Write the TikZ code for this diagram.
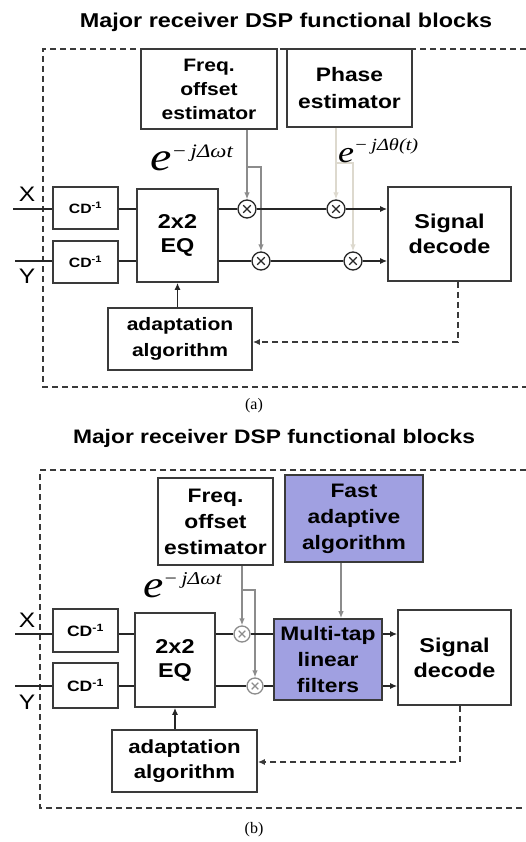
\documentclass[tikz,border=0pt]{standalone}
\usepackage{fontspec}
\setmainfont{Liberation Serif}
\setsansfont{Liberation Sans}
\usetikzlibrary{arrows.meta,calc}
\definecolor{boxc}{HTML}{3A3A3A}
\definecolor{gline}{HTML}{8C8C8C}
\definecolor{pline}{HTML}{DDD9CE}
\definecolor{purp}{HTML}{A0A0E1}
\newcommand\sx[1]{\scalebox{1.17}[1]{#1}}
\newcommand\elab[4]{\scalebox{1.2}[1]{\fontsize{#1}{#1}\selectfont\itshape e\raisebox{#3}{\fontsize{#2}{#2}\selectfont #4}}}
\newcommand\fs[2]{\fontsize{#1}{#2}\selectfont}
\tikzset{
  box/.style={draw=boxc, line width=1.6pt, fill=white, inner sep=0pt, font=\sffamily\bfseries, align=center},
  conn/.style={line width=1.5pt, draw=black!85},
  arr/.style={conn, -{Latex[length=7pt,width=6pt]}},
  garr/.style={line width=1.3pt, draw=#1, -{Latex[length=7pt,width=5.5pt]}},
  garr/.default=gline,
  frame/.style={draw=boxc, line width=1.3pt, dash pattern=on 6pt off 4pt},
  fback/.style={draw=boxc, line width=1.5pt, dash pattern=on 6pt off 4pt, -{Latex[length=7pt,width=6pt]}},
  mul/.style={circle, draw=#1, line width=1.3pt, fill=white, minimum size=18pt, inner sep=0pt,
    path picture={\draw[line width=1.1pt, draw=#1]
      ($(path picture bounding box.center)!0.42!(path picture bounding box.north east)$) --
      ($(path picture bounding box.center)!0.42!(path picture bounding box.south west)$)
      ($(path picture bounding box.center)!0.42!(path picture bounding box.north west)$) --
      ($(path picture bounding box.center)!0.42!(path picture bounding box.south east)$);}},
  mul/.default=black!85,
  ttl/.style={font=\sffamily\bfseries, inner sep=0pt},
  io/.style={font=\sffamily\fs{21}{21}, inner sep=0pt},
  captxt/.style={font=\fs{16}{16}, inner sep=0pt},
}
\begin{document}
\begin{tikzpicture}[x=1pt,y=-1pt]
\useasboundingbox[fill=white] (0,0) rectangle (526,842);

% ================= Panel (a) =================
\node[ttl] (ta) at (286,22) {\fs{20}{20}\sx{Major receiver DSP functional blocks}};
\draw[frame] (526,49) -- (43,49) -- (43,387) -- (526,387);

\node[box, minimum width=136pt, minimum height=80pt, font=\sffamily\bfseries\fs{18}{24}] (fo) at (209,89) {\sx{Freq.}\\\sx{offset}\\\sx{estimator}};
\node[box, minimum width=125pt, minimum height=78pt, font=\sffamily\bfseries\fs{19.5}{27}] (ph) at (349.5,88) {\sx{Phase}\\\sx{estimator}};

\node[box, minimum width=65pt, minimum height=42pt, font=\sffamily\bfseries\fs{13.5}{14}] (cdx) at (85.5,208) {\sx{CD\textsuperscript{-1}}};
\node[box, minimum width=65pt, minimum height=42pt, font=\sffamily\bfseries\fs{13.5}{14}] (cdy) at (85.5,262) {\sx{CD\textsuperscript{-1}}};
\node[box, minimum width=81pt, minimum height=93pt, font=\sffamily\bfseries\fs{20}{24}] (eq) at (177.5,235.5) {\sx{2x2}\\\sx{EQ}};
\node[box, minimum width=123pt, minimum height=94pt, font=\sffamily\bfseries\fs{20}{25}] (sd) at (449.5,234) {\sx{Signal}\\\sx{decode}};
\node[box, minimum width=144pt, minimum height=62pt, font=\sffamily\bfseries\fs{18}{26}] (ad) at (180,339) {\sx{adaptation}\\\sx{algorithm}};

\node[io] (xa) at (27,194) {\sx{X}};
\node[io] (ya) at (27,276) {\sx{Y}};
\coordinate (xin) at (13,209);
\coordinate (yin) at (15,261);

% frequency / phase lines
\coordinate (fa1) at (247,167);
\coordinate (fa2) at (261,167);
\coordinate (pa1) at (336,163);
\coordinate (pa2) at (353,163);
\node[mul] (m1) at (247,209) {};
\node[mul] (m2) at (261,261) {};
\node[mul] (m3) at (336,209) {};
\node[mul] (m4) at (353,261) {};
\draw[garr] (fo.south -| m1) -- (m1.north);
\draw[garr] (fa1) -- (fa2) -- (m2.north);
\draw[garr=pline] (ph.south -| m3) -- (m3.north);
\draw[garr=pline] (pa1) -- (pa2) -- (m4.north);

\node[anchor=base west, inner sep=0pt] (lfa) at (150,171) {\elab{40}{19}{13pt}{−\,jΔωt}};
\node[anchor=base west, inner sep=0pt] (lpa) at (338,163) {\elab{30}{17}{12pt}{−\,jΔθ(t)}};

\draw[conn] (xin) -- (cdx.west |- xin);
\draw[conn] (yin) -- (cdy.west |- yin);
\draw[conn] (cdx.east |- m1) -- (eq.west |- m1);
\draw[conn] (cdy.east |- m2) -- (eq.west |- m2);
\draw[conn] (eq.east |- m1) -- (m1.west);
\draw[conn] (eq.east |- m2) -- (m2.west);
\draw[conn] (m1.east) -- (m3.west);
\draw[conn] (m2.east) -- (m4.west);
\draw[arr] (m3.east) -- (sd.west |- m3);
\draw[arr] (m4.east) -- (sd.west |- m4);
\draw[arr] (eq.south |- ad.north) -- (eq.south);
\coordinate (fbka) at (458,342);
\draw[fback] (sd.south -| fbka) -- (fbka) -- (ad.east |- fbka);

\node[captxt] (capa) at (254,406) {(a)};

% ================= Panel (b) =================
\node[ttl] (tb) at (274,438) {\fs{19.5}{20}\sx{Major receiver DSP functional blocks}};
\draw[frame] (526,470) -- (40,470) -- (40,808) -- (526,808);

\node[box, minimum width=115pt, minimum height=87pt, font=\sffamily\bfseries\fs{19.5}{26}] (fo2) at (215.5,521.5) {\sx{Freq.}\\\sx{offset}\\\sx{estimator}};
\node[box, fill=purp, minimum width=138pt, minimum height=87pt, font=\sffamily\bfseries\fs{19.5}{26}] (fa) at (354,518.5) {\sx{Fast}\\\sx{adaptive}\\\sx{algorithm}};

\node[box, minimum width=65pt, minimum height=43pt, font=\sffamily\bfseries\fs{15}{15}] (cdx2) at (85.5,630.5) {\sx{CD\textsuperscript{-1}}};
\node[box, minimum width=65pt, minimum height=45pt, font=\sffamily\bfseries\fs{15}{15}] (cdy2) at (85.5,685.5) {\sx{CD\textsuperscript{-1}}};
\node[box, minimum width=80pt, minimum height=94pt, font=\sffamily\bfseries\fs{20}{24}] (eq2) at (175,660) {\sx{2x2}\\\sx{EQ}};
\node[box, fill=purp, minimum width=108pt, minimum height=81pt, font=\sffamily\bfseries\fs{19.5}{26}] (mt) at (328,659.5) {\sx{Multi-tap}\\\sx{linear}\\\sx{filters}};
\node[box, minimum width=113pt, minimum height=95pt, font=\sffamily\bfseries\fs{20}{25}] (sd2) at (454.5,657.5) {\sx{Signal}\\\sx{decode}};
\node[box, minimum width=145pt, minimum height=62pt, font=\sffamily\bfseries\fs{19}{25}] (ad2) at (184.5,761) {\sx{adaptation}\\\sx{algorithm}};

\node[io] (xb) at (27,620) {\sx{X}};
\node[io] (yb) at (27,702) {\sx{Y}};
\coordinate (xin2) at (15,634);
\coordinate (yin2) at (15,686);

\coordinate (fb1) at (242,590);
\coordinate (fb2) at (255,590);
\node[mul=gline, minimum size=16pt] (n1) at (242,634) {};
\node[mul=gline, minimum size=16pt] (n2) at (255,686) {};
\draw[garr] (fo2.south -| n1) -- (n1.north);
\draw[garr] (fb1) -- (fb2) -- (n2.north);
\coordinate (fadn) at (341,0);
\draw[garr] (fa.south -| fadn) -- (mt.north -| fadn);

\node[anchor=base west, inner sep=0pt] (lfb) at (143,597) {\elab{38}{18}{13pt}{−\,jΔωt}};

\draw[conn] (xin2) -- (cdx2.west |- xin2);
\draw[conn] (yin2) -- (cdy2.west |- yin2);
\draw[conn] (cdx2.east |- n1) -- (eq2.west |- n1);
\draw[conn] (cdy2.east |- n2) -- (eq2.west |- n2);
\draw[conn] (eq2.east |- n1) -- (n1.west);
\draw[conn] (eq2.east |- n2) -- (n2.west);
\draw[conn] (n1.east) -- (mt.west |- n1);
\draw[conn] (n2.east) -- (mt.west |- n2);
\draw[arr] (mt.east |- n1) -- (sd2.west |- n1);
\draw[arr] (mt.east |- n2) -- (sd2.west |- n2);
\draw[arr] (eq2.south |- ad2.north) -- (eq2.south);
\coordinate (fbkb) at (460,762);
\draw[fback] (sd2.south -| fbkb) -- (fbkb) -- (ad2.east |- fbkb);

\node[captxt] (capb) at (254,830) {(b)};
\end{tikzpicture}
\end{document}
